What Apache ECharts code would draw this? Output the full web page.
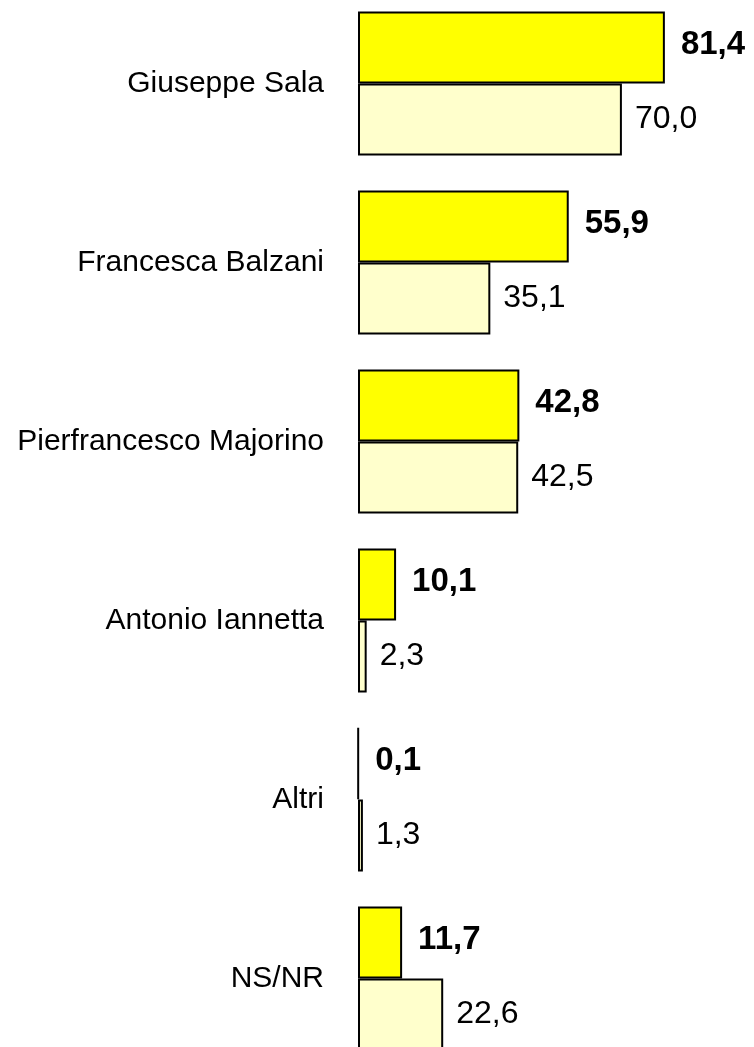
<!DOCTYPE html>
<html>
<head>
<meta charset="utf-8">
<script src="https://cdn.jsdelivr.net/npm/echarts@6/dist/echarts.min.js"></script>
<style>
html,body{margin:0;padding:0;background:#fff;width:754px;height:1047px;overflow:hidden;position:relative;}
#chart{position:absolute;left:0;top:-6px;width:754px;height:1074px;}
</style>
</head>
<body>
<div id="chart"></div>
<script>
const categories = ['Giuseppe Sala', 'Francesca Balzani', 'Pierfrancesco Majorino', 'Antonio Iannetta', 'Altri', 'NS/NR'];
const seriesA = [81.4, 55.9, 42.8, 10.1, 0.1, 11.7];
const seriesB = [70.0, 35.1, 42.5, 2.3, 1.3, 22.6];

const fmt = p => p.value.toFixed(1).replace('.', ',');
const font = 'Liberation Sans, Arial, sans-serif';

const chart = echarts.init(document.getElementById('chart'));
chart.setOption({
  animation: false,
  backgroundColor: '#ffffff',
  grid: { left: 358, right: 19, top: 0, bottom: 0, containLabel: false },
  xAxis: {
    type: 'value', min: 0, max: 100, show: false
  },
  yAxis: {
    type: 'category', data: categories, inverse: true,
    axisLine: { show: false }, axisTick: { show: false }, splitLine: { show: false },
    axisLabel: { color: '#000', fontSize: 30, fontFamily: font, margin: 34 }
  },
  series: [
    {
      name: 'A', type: 'bar', data: seriesA, barWidth: 72, barGap: '0%',
      itemStyle: { color: '#FFFF00', borderColor: '#000', borderWidth: 2 },
      label: { show: true, position: 'right', distance: 16, offset: [0, -3], formatter: fmt,
               color: '#000', fontSize: 33, fontWeight: 'bold', fontFamily: font }
    },
    {
      name: 'B', type: 'bar', data: seriesB, barWidth: 72, barGap: '0%',
      itemStyle: { color: '#FFFFCC', borderColor: '#000', borderWidth: 2 },
      label: { show: true, position: 'right', distance: 13, formatter: fmt,
               color: '#000', fontSize: 32, fontFamily: font }
    }
  ]
});
</script>
</body>
</html>
